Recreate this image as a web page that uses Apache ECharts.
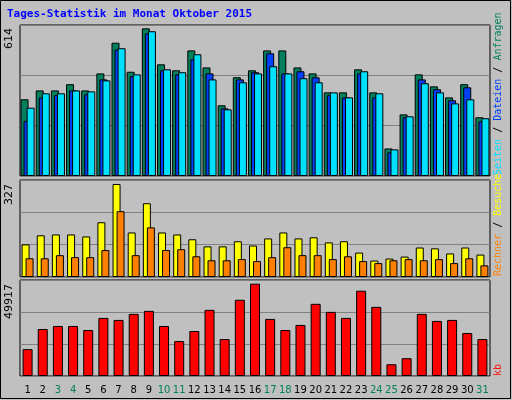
<!DOCTYPE html>
<html><head><meta charset="utf-8">
<script src="https://cdn.jsdelivr.net/npm/echarts@6/dist/echarts.min.js"></script>
<style>html,body{margin:0;padding:0;background:#c0c0c0}#c{width:512px;height:400px}</style>
</head><body><div id="c"></div>
<script>
const days = ['1','2','3','4','5','6','7','8','9','10','11','12','13','14','15','16','17','18','19','20','21','22','23','24','25','26','27','28','29','30','31'];
const weekend = ['3','4','10','11','17','18','24','25','31'];
const anfragen = [320,357,357,383,357,428,556,435,616,466,441,524,453,295,412,441,524,524,453,428,349,349,445,349,115,257,424,374,328,383,245];
const dateien = [230,327,337,357,341,403,528,416,595,441,424,487,428,282,403,433,512,428,437,412,337,328,428,328,99,245,403,362,316,370,228];
const seiten = [285,345,345,357,353,399,533,424,604,445,433,508,403,278,391,428,458,428,408,391,349,328,437,345,111,249,387,349,303,320,241];
const besuche = [115,147,150,150,143,193,328,157,260,157,150,133,108,108,126,111,136,157,136,140,122,126,86,58,65,72,104,101,83,104,79];
const rechner = [66,66,77,70,70,95,232,77,175,95,98,73,59,59,63,56,70,105,77,77,63,73,56,49,59,63,59,63,49,66,41];
const kb = [14520,25410,27040,27040,24870,31400,30310,33580,35210,27040,18880,24320,35760,19970,41200,49917,30860,24870,27590,39020,34670,31400,46100,37390,6350,9620,33580,29770,30310,23230,19970];

const chart = echarts.init(document.getElementById('c'));
const grids = [
  {left: 20, right: 22, top: 25, height: 151},
  {left: 20, right: 22, top: 180, height: 97},
  {left: 20, right: 22, top: 280, height: 96}
].map(g => Object.assign(g, {show: true, backgroundColor: '#c0c0c0', borderColor: '#000', borderWidth: 1}));
const maxes = [630, 342, 51900];
const xAxes = grids.map((g, i) => ({
  type: 'category', gridIndex: i, data: days,
  axisLine: {show: false}, axisTick: {show: false},
  axisLabel: i === 2 ? {
    show: true, fontFamily: 'DejaVu Sans', fontSize: 10, margin: 9, interval: 0,
    color: (v) => weekend.includes(v) ? '#00805c' : '#000'
  } : {show: false}
}));
const yAxes = maxes.map((m, i) => ({
  type: 'value', gridIndex: i, min: 0, max: m, interval: m / 3,
  axisLabel: {show: false}, axisLine: {show: false}, axisTick: {show: false},
  splitLine: {lineStyle: {color: '#808080', width: 1}}
}));
const bar = (name, data, color, i, w, gap) => ({
  name, type: 'bar', data, xAxisIndex: i, yAxisIndex: i, barWidth: w, barGap: gap,
  itemStyle: {color, borderColor: '#000', borderWidth: 1}, silent: true, animation: false
});
const ylab = (y, text) => ({type: 'text', x: 9, y, rotation: Math.PI / 2,
  style: {text, fill: '#000', fontFamily: 'DejaVu Sans', fontSize: 11, align: 'right', verticalAlign: 'middle'}});
chart.setOption({
  backgroundColor: '#c0c0c0',
  grid: grids, xAxis: xAxes, yAxis: yAxes,
  series: [
    bar('Anfragen', anfragen, '#00805c', 0, 8, '-62%'),
    bar('Dateien', dateien, '#0040ff', 0, 8, '-62%'),
    bar('Seiten', seiten, '#00e0ff', 0, 8, '-62%'),
    bar('Besuche', besuche, '#ffff00', 1, 8, '-50%'),
    bar('Rechner', rechner, '#ff8000', 1, 8, '-50%'),
    bar('kB', kb, '#ff0000', 2, 10, '0%')
  ],
  graphic: [
    {type: 'rect', shape: {x: 0.5, y: 0.5, width: 510, height: 398}, style: {fill: 'none', stroke: '#000', lineWidth: 1}},
    {type: 'text', x: 7, y: 9, style: {text: 'Tages-Statistik im Monat Oktober 2015', fill: '#0000ff', fontFamily: 'DejaVu Sans Mono', fontSize: 11, fontWeight: 'bold'}},
    ylab(28, '614'), ylab(184, '327'), ylab(284, '49917'),
    {type: 'text', x: 498, y: 175, rotation: Math.PI / 2, style: {
      text: '{s|Seiten} / {d|Dateien} / {a|Anfragen}', fontFamily: 'DejaVu Sans Mono', fontSize: 10, fill: '#000', align: 'left', verticalAlign: 'middle',
      rich: {s: {fill: '#00e0ff'}, d: {fill: '#0040ff'}, a: {fill: '#00805c'}}}},
    {type: 'text', x: 498, y: 276, rotation: Math.PI / 2, style: {
      text: '{r|Rechner} / {b|Besuche}', fontFamily: 'DejaVu Sans Mono', fontSize: 10, fill: '#000', align: 'left', verticalAlign: 'middle',
      rich: {r: {fill: '#ff8000'}, b: {fill: '#ffff00'}}}},
    {type: 'text', x: 498, y: 376, rotation: Math.PI / 2, style: {text: 'kb', fill: '#ff0000', fontFamily: 'DejaVu Sans Mono', fontSize: 10, align: 'left', verticalAlign: 'middle'}}
  ]
});
</script></body></html>
